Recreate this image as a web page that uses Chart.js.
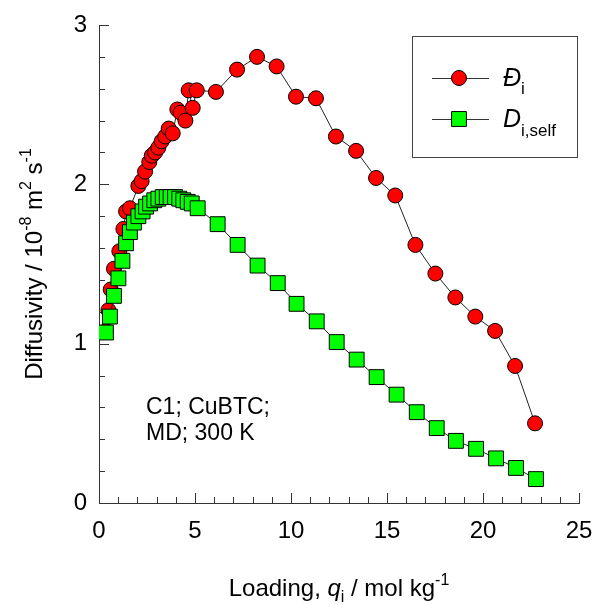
<!DOCTYPE html>
<html>
<head>
<meta charset="utf-8">
<script src="https://cdn.jsdelivr.net/npm/chart.js@4"></script>
<style>
  html, body { margin: 0; padding: 0; background: #fff; }
  #chart { display: block; }
</style>
</head>
<body>
<canvas id="chart" width="599" height="605"></canvas>
<script>
// Maxwell-Stefan diffusivity (Đi) and self-diffusivity vs loading, C1 in CuBTC, MD at 300 K
const msLoading = [0.37, 0.49, 0.61, 0.78, 1.06, 1.27, 1.41, 1.61, 2.05, 2.22, 2.40, 2.62, 2.75, 2.92, 3.09, 3.26, 3.45, 3.63, 3.84, 4.08, 4.25, 4.50, 4.67, 4.88, 5.09, 6.09, 7.19, 8.23, 9.25, 10.26, 11.30, 12.34, 13.39, 14.43, 15.43, 16.48, 17.52, 18.56, 19.60, 20.63, 21.67, 22.71];
const msDiff = [1.08, 1.21, 1.34, 1.47, 1.58, 1.72, 1.83, 1.85, 1.99, 2.02, 2.08, 2.14, 2.18, 2.20, 2.23, 2.27, 2.30, 2.35, 2.32, 2.47, 2.45, 2.40, 2.59, 2.48, 2.59, 2.58, 2.72, 2.80, 2.74, 2.55, 2.54, 2.30, 2.21, 2.04, 1.93, 1.62, 1.44, 1.29, 1.17, 1.08, 0.86, 0.50];

const selfLoading = [0.36, 0.57, 0.78, 1.01, 1.22, 1.41, 1.61, 1.82, 2.05, 2.27, 2.45, 2.66, 2.88, 3.09, 3.32, 3.53, 3.73, 3.96, 4.18, 4.39, 4.62, 4.83, 5.14, 6.18, 7.22, 8.26, 9.31, 10.29, 11.34, 12.38, 13.42, 14.46, 15.50, 16.55, 17.59, 18.59, 19.64, 20.68, 21.72, 22.76];
const selfDiff = [1.07, 1.17, 1.30, 1.41, 1.52, 1.63, 1.70, 1.76, 1.80, 1.83, 1.86, 1.88, 1.90, 1.91, 1.92, 1.92, 1.92, 1.92, 1.91, 1.90, 1.89, 1.88, 1.85, 1.75, 1.62, 1.49, 1.38, 1.25, 1.14, 1.01, 0.90, 0.79, 0.68, 0.57, 0.47, 0.39, 0.34, 0.28, 0.22, 0.15];

const xMajorTicks = [0, 5, 10, 15, 20, 25];
const yMajorTicks = [0, 1, 2, 3];
const xMinorStep = 1;
const yMinorStep = 0.2;

const FONT = '"Liberation Sans", Arial, sans-serif';

function toPoints(xs, ys) {
    return xs.map((x, i) => ({ x: x, y: ys[i] }));
}

// text pieces with sub/superscripts, drawn left to right
function runsWidth(ctx, runs) {
    let w = 0;
    runs.forEach(r => { ctx.font = r.font; w += ctx.measureText(r.t).width; });
    return w;
}
function drawRuns(ctx, x, y, runs) {
    runs.forEach(r => {
        ctx.font = r.font;
        ctx.fillText(r.t, x, y + (r.dy || 0));
        x += ctx.measureText(r.t).width;
    });
}

const decorPlugin = {
    id: 'decor',
    beforeDatasetsDraw(chart) {
        const ctx = chart.ctx;
        const xs = chart.scales.x, ys = chart.scales.y;
        const area = chart.chartArea;
        ctx.save();
        ctx.strokeStyle = '#333';
        ctx.lineWidth = 1;
        ctx.beginPath();
        // inward ticks on the bottom axis
        for (let k = 0; k <= Math.round((xs.max - xs.min) / xMinorStep); k++) {
            const v = xs.min + k * xMinorStep;
            const px = Math.round(xs.getPixelForValue(v)) + 0.5;
            const len = k % 5 === 0 ? 10 : 6;
            ctx.moveTo(px, area.bottom);
            ctx.lineTo(px, area.bottom - len);
        }
        // inward ticks on the left axis
        for (let k = 0; k <= Math.round((ys.max - ys.min) / yMinorStep); k++) {
            const v = ys.min + k * yMinorStep;
            const py = Math.round(ys.getPixelForValue(v)) + 0.5;
            const len = k % 5 === 0 ? 10 : 6;
            ctx.moveTo(area.left, py);
            ctx.lineTo(area.left + len, py);
        }
        ctx.stroke();
        ctx.restore();
    },
    afterDraw(chart) {
        const ctx = chart.ctx;
        const xs = chart.scales.x, ys = chart.scales.y;
        const area = chart.chartArea;
        ctx.save();
        ctx.fillStyle = '#000';

        // tick labels
        ctx.font = '24px ' + FONT;
        ctx.textAlign = 'center';
        ctx.textBaseline = 'alphabetic';
        xMajorTicks.forEach(v => ctx.fillText(String(v), xs.getPixelForValue(v), area.bottom + 35));
        ctx.textAlign = 'right';
        ctx.textBaseline = 'middle';
        yMajorTicks.forEach(v => ctx.fillText(String(v), area.left - 12, ys.getPixelForValue(v)));

        ctx.textAlign = 'left';
        ctx.textBaseline = 'alphabetic';

        // x axis title
        const f = '24px ' + FONT, fi = 'italic 24px ' + FONT, fs = '16px ' + FONT;
        const xTitle = [
            { t: 'Loading, ', font: f },
            { t: 'q', font: fi },
            { t: 'i', font: fs, dy: 6 },
            { t: ' / mol kg', font: f },
            { t: '-1', font: fs, dy: -11 }
        ];
        const xw = runsWidth(ctx, xTitle);
        drawRuns(ctx, (area.left + area.right) / 2 - xw / 2, 596, xTitle);

        // y axis title, rotated
        const yTitle = [
            { t: 'Diffusivity / 10', font: f },
            { t: '-8', font: fs, dy: -11 },
            { t: ' m', font: f },
            { t: '2', font: fs, dy: -11 },
            { t: ' s', font: f },
            { t: '-1', font: fs, dy: -11 }
        ];
        const yw = runsWidth(ctx, yTitle);
        ctx.save();
        ctx.translate(42, (area.top + area.bottom) / 2);
        ctx.rotate(-Math.PI / 2);
        drawRuns(ctx, -yw / 2, 0, yTitle);
        ctx.restore();

        // system annotation
        ctx.font = '23px ' + FONT;
        ctx.fillText('C1; CuBTC;', 146, 414);
        ctx.fillText('MD; 300 K', 146, 440);

        // legend box
        ctx.strokeStyle = '#444';
        ctx.lineWidth = 1;
        ctx.strokeRect(412.5, 36.5, 165, 121);
        const rows = [
            { y: 78, ds: chart.data.datasets[0], label: [{ t: 'Đ', font: 'italic 25px ' + FONT }, { t: 'i', font: '17px ' + FONT, dy: 8 }] },
            { y: 119, ds: chart.data.datasets[1], label: [{ t: 'D', font: 'italic 25px ' + FONT }, { t: 'i,self', font: '17px ' + FONT, dy: 9 }] }
        ];
        rows.forEach(r => {
            ctx.strokeStyle = '#333';
            ctx.beginPath();
            ctx.moveTo(432, r.y + 0.5);
            ctx.lineTo(489, r.y + 0.5);
            ctx.stroke();
            ctx.fillStyle = r.ds.pointBackgroundColor;
            ctx.strokeStyle = '#000';
            Chart.helpers.drawPoint(ctx, {
                pointStyle: r.ds.pointStyle,
                radius: r.ds.pointRadius,
                borderWidth: 1,
                rotation: 0
            }, 459, r.y);
            ctx.fillStyle = '#000';
            drawRuns(ctx, 503, r.y + 8, r.label);
        });
        ctx.restore();
    }
};

new Chart(document.getElementById('chart'), {
    type: 'scatter',
    data: {
        datasets: [
            {
                label: 'Đi',
                data: toPoints(msLoading, msDiff),
                order: 1, // drawn underneath the self-diffusivity squares
                showLine: true,
                borderColor: '#222',
                borderWidth: 1,
                pointStyle: 'circle',
                pointRadius: 7.5,
                pointBackgroundColor: '#ff0000',
                pointBorderColor: '#000',
                pointBorderWidth: 1
            },
            {
                label: 'Di,self',
                data: toPoints(selfLoading, selfDiff),
                order: 0,
                showLine: true,
                borderColor: '#222',
                borderWidth: 1,
                pointStyle: 'rect',
                pointRadius: 10.5,
                pointBackgroundColor: '#00ff00',
                pointBorderColor: '#000',
                pointBorderWidth: 1
            }
        ]
    },
    options: {
        responsive: false,
        animation: false,
        devicePixelRatio: 1,
        layout: { padding: { left: 99, right: 20, top: 25, bottom: 102 } },
        plugins: {
            legend: { display: false },
            tooltip: { enabled: false }
        },
        scales: {
            x: {
                type: 'linear',
                min: 0,
                max: 25,
                grid: { display: false, drawTicks: false },
                border: { display: true, color: '#333', width: 1 },
                ticks: { display: false }
            },
            y: {
                type: 'linear',
                min: 0,
                max: 3,
                grid: { display: false, drawTicks: false },
                border: { display: true, color: '#333', width: 1 },
                ticks: { display: false }
            }
        }
    },
    plugins: [decorPlugin]
});
</script>
</body>
</html>
